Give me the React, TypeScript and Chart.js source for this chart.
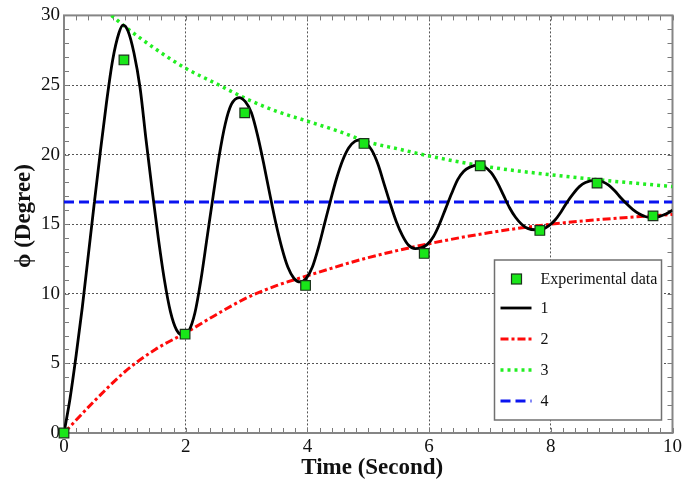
import React, { useEffect, useRef } from 'react';
import { Chart, registerables } from 'chart.js';

Chart.register(...registerables);

const SERIF = '"Liberation Serif", "Times New Roman", serif';

// ---- Data ----
const expTime = [0, 0.985, 1.99, 2.97, 3.97, 4.93, 5.92, 6.84, 7.82, 8.76, 9.68];
const expPhi = [0, 26.8, 7.1, 23.0, 10.6, 20.8, 12.9, 19.2, 14.55, 17.95, 15.6];

const curve1Time = [
  0, 0.1, 0.2, 0.3, 0.4, 0.5, 0.6, 0.7, 0.8, 0.9, 0.97,
  1.05, 1.15, 1.25, 1.35, 1.45, 1.55, 1.65, 1.75, 1.85, 1.98,
  2.05, 2.15, 2.25, 2.35, 2.45, 2.55, 2.65, 2.75, 2.88,
  2.98, 3.08, 3.18, 3.28, 3.38, 3.48, 3.58, 3.68, 3.78, 3.88,
  3.98, 4.08, 4.18, 4.28, 4.38, 4.48, 4.58, 4.68, 4.78, 4.86,
  4.96, 5.06, 5.16, 5.26, 5.36, 5.46, 5.56, 5.66, 5.77,
  5.87, 5.97, 6.07, 6.17, 6.27, 6.37, 6.47, 6.57, 6.67, 6.8,
  6.92, 7.02, 7.12, 7.22, 7.32, 7.42, 7.52, 7.62, 7.75,
  7.87, 7.97, 8.07, 8.17, 8.27, 8.37, 8.47, 8.57, 8.73,
  8.85, 8.95, 9.05, 9.15, 9.25, 9.35, 9.45, 9.55, 9.66,
  9.78, 9.9, 10,
];
const curve1Phi = [
  0, 2.5, 5.6, 9.0, 12.8, 16.6, 20.3, 23.8, 26.8, 28.7, 29.3,
  28.9, 27.3, 24.8, 21.0, 17.4, 14.0, 11.0, 8.7, 7.4, 7.0,
  7.3, 8.6, 11.0, 14.0, 17.0, 19.9, 22.2, 23.6, 24.1,
  23.8, 23.0, 21.4, 19.4, 17.2, 15.1, 13.3, 11.9, 11.1, 10.85,
  11.1, 11.9, 13.3, 15.0, 16.7, 18.3, 19.6, 20.5, 20.95, 21.05,
  20.85, 20.3, 19.3, 17.9, 16.5, 15.2, 14.2, 13.5, 13.25,
  13.3, 13.55, 14.1, 15.0, 16.1, 17.2, 18.2, 18.8, 19.1, 19.25,
  19.1, 18.7, 18.0, 17.1, 16.2, 15.5, 15.0, 14.7, 14.6,
  14.65, 14.9, 15.3, 15.9, 16.6, 17.2, 17.7, 18.0, 18.15,
  18.05, 17.8, 17.4, 16.9, 16.45, 16.05, 15.75, 15.55, 15.45,
  15.55, 15.75, 16.0,
];

const curve2Time = [0, 0.5, 1, 1.5, 2, 2.5, 3, 3.5, 4, 5, 6, 7, 8, 9, 10];
const curve2Phi = [0, 2.3, 4.4, 6.0, 7.2, 8.5, 9.7, 10.6, 11.3, 12.6, 13.6, 14.4, 15.0, 15.4, 15.7];

const curve3Time = [0.78, 1, 1.5, 2, 2.5, 3, 3.5, 4, 4.5, 5, 5.5, 6, 7, 8, 9, 10];
const curve3Phi = [30, 29.2, 27.6, 26.2, 25.1, 24.0, 23.1, 22.4, 21.7, 20.9, 20.4, 19.9, 19.1, 18.55, 18.1, 17.7];

const curve4Time = [0, 10];
const curve4Phi = [16.6, 16.6];

const seriesLabels = ['Experimental data', '1', '2', '3', '4'];
const xTitle = 'Time (Second)';
const yTitle = 'ϕ (Degree)';
const X_MIN = 0, X_MAX = 10, X_STEP = 2, X_MINOR = 0.2;
const Y_MIN = 0, Y_MAX = 30, Y_STEP = 5, Y_MINOR = 1;

const toXY = (xs: number[], ys: number[]) => xs.map((x, i) => ({ x, y: ys[i] }));

const decorPlugin = {
  id: 'decor',
  beforeDatasetsDraw(chart: any) {
    const { ctx, chartArea: a, scales } = chart;
    const x = scales.x, y = scales.y;
    ctx.save();
    ctx.strokeStyle = '#7a7a7a';
    ctx.lineWidth = 1;
    ctx.beginPath();
    const nx = Math.round((X_MAX - X_MIN) / X_MINOR);
    for (let i = 0; i <= nx; i++) {
      const px = Math.round(x.getPixelForValue(X_MIN + i * X_MINOR)) + 0.5;
      ctx.moveTo(px, a.bottom); ctx.lineTo(px, a.bottom - 5);
      ctx.moveTo(px, a.top); ctx.lineTo(px, a.top + 5);
    }
    const ny = Math.round((Y_MAX - Y_MIN) / Y_MINOR);
    for (let i = 0; i <= ny; i++) {
      const py = Math.round(y.getPixelForValue(Y_MIN + i * Y_MINOR)) + 0.5;
      ctx.moveTo(a.left, py); ctx.lineTo(a.left + 5, py);
      ctx.moveTo(a.right, py); ctx.lineTo(a.right - 5, py);
    }
    ctx.stroke();
    ctx.strokeStyle = '#858585';
    ctx.lineWidth = 2;
    ctx.strokeRect(a.left, a.top, a.right - a.left, a.bottom - a.top);
    ctx.restore();
  },
  afterDraw(chart: any) {
    const { ctx, chartArea: a } = chart;
    ctx.save();
    // Axis titles
    ctx.fillStyle = '#111';
    ctx.font = `bold 23px ${SERIF}`;
    ctx.textAlign = 'center';
    ctx.textBaseline = 'alphabetic';
    ctx.fillText(xTitle, (a.left + a.right) / 2 + 4, 474);
    ctx.save();
    ctx.translate(24, 216);
    ctx.rotate(-Math.PI / 2);
    ctx.textBaseline = 'middle';
    ctx.fillText(yTitle, 0, 0);
    ctx.restore();

    // Legend
    const w = 167, h = 160;
    const left = a.right - 11 - w;
    const top = a.bottom - 13 - h;
    ctx.fillStyle = '#fff';
    ctx.fillRect(left, top, w, h);
    ctx.strokeStyle = '#707070';
    ctx.lineWidth = 1.5;
    ctx.strokeRect(left, top, w, h);
    const rows = [19, 48, 79, 110, 141];
    chart.data.datasets.forEach((ds: any, i: number) => {
      const yy = top + rows[i];
      if (ds.showLine === false) {
        ctx.fillStyle = ds.pointBackgroundColor;
        ctx.strokeStyle = ds.pointBorderColor;
        ctx.lineWidth = 1.2;
        ctx.fillRect(left + 17, yy - 5, 10, 10);
        ctx.strokeRect(left + 17, yy - 5, 10, 10);
      } else {
        ctx.strokeStyle = ds.borderColor;
        ctx.lineWidth = ds.borderWidth;
        ctx.setLineDash(ds.borderDash || []);
        ctx.beginPath();
        ctx.moveTo(left + 6, yy);
        ctx.lineTo(left + 37, yy);
        ctx.stroke();
        ctx.setLineDash([]);
      }
      ctx.fillStyle = '#111';
      ctx.font = `16px ${SERIF}`;
      ctx.textAlign = 'left';
      ctx.textBaseline = 'middle';
      ctx.fillText(ds.label, left + 46, yy + 1);
    });
    ctx.restore();
  },
};

export default function App() {
  const ref = useRef<HTMLCanvasElement>(null);
  useEffect(() => {
    if (!ref.current) return;
    const chart = new Chart(ref.current, {
      type: 'line',
      data: {
        datasets: [
          {
            label: seriesLabels[0],
            data: toXY(expTime, expPhi),
            showLine: false,
            clip: false,
            pointStyle: 'rect',
            pointRadius: 6.8,
            pointBackgroundColor: '#19e619',
            pointBorderColor: '#1c331c',
            pointBorderWidth: 1.2,
            borderColor: '#1c331c',
          },
          {
            label: seriesLabels[1],
            data: toXY(curve1Time, curve1Phi),
            borderColor: '#000000',
            borderWidth: 2.8,
            pointRadius: 0,
            cubicInterpolationMode: 'monotone',
          },
          {
            label: seriesLabels[2],
            data: toXY(curve2Time, curve2Phi),
            borderColor: '#ff0a0a',
            borderWidth: 3,
            borderDash: [8, 3, 3, 3],
            pointRadius: 0,
            cubicInterpolationMode: 'monotone',
          },
          {
            label: seriesLabels[3],
            data: toXY(curve3Time, curve3Phi),
            borderColor: '#22ee22',
            borderWidth: 3.5,
            borderDash: [3, 4],
            pointRadius: 0,
            cubicInterpolationMode: 'monotone',
          },
          {
            label: seriesLabels[4],
            data: toXY(curve4Time, curve4Phi),
            borderColor: '#0a14f0',
            borderWidth: 3,
            borderDash: [10, 5],
            pointRadius: 0,
          },
        ] as any,
      },
      options: {
        animation: false,
        responsive: false,
        devicePixelRatio: 1,
        layout: { padding: { top: 13, right: 9, left: 0, bottom: 0 } },
        plugins: { legend: { display: false }, tooltip: { enabled: false } },
        scales: {
          x: {
            type: 'linear',
            min: X_MIN,
            max: X_MAX,
            ticks: {
              stepSize: X_STEP,
              padding: 3,
              color: '#111',
              font: { family: SERIF, size: 19 },
              maxRotation: 0,
            },
            grid: { color: '#555', lineWidth: 1, drawTicks: false },
            border: { display: false, dash: [2, 2] },
            afterFit: (s: any) => { s.height = 50; },
          },
          y: {
            type: 'linear',
            min: Y_MIN,
            max: Y_MAX,
            ticks: {
              stepSize: Y_STEP,
              padding: 4,
              color: '#111',
              font: { family: SERIF, size: 19 },
            },
            grid: { color: '#555', lineWidth: 1, drawTicks: false },
            border: { display: false, dash: [2, 2] },
            afterFit: (s: any) => { s.width = 64; },
          },
        },
      } as any,
      plugins: [decorPlugin],
    });
    return () => chart.destroy();
  }, []);
  return (
    <div style={{ position: 'absolute', left: 0, top: 0, width: 685, height: 483, background: '#fff' }}>
      <canvas ref={ref} width={685} height={483} style={{ display: 'block' }} />
    </div>
  );
}
